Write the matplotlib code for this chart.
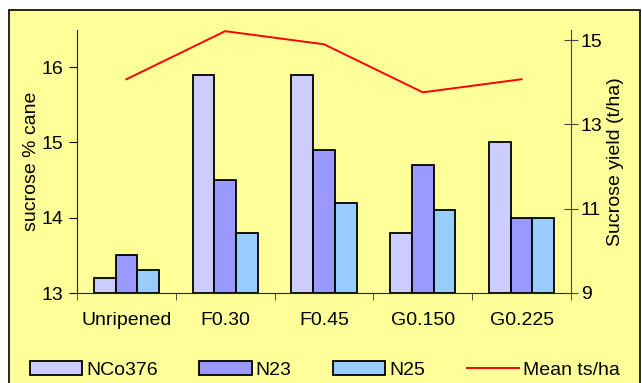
import matplotlib
matplotlib.use("Agg")
import matplotlib.pyplot as plt
import numpy as np
from matplotlib.patches import Rectangle, Patch
from matplotlib.lines import Line2D

plt.rcParams['font.family'] = ['Liberation Sans', 'DejaVu Sans']

categories = ["Unripened", "F0.30", "F0.45", "G0.150", "G0.225"]
series_names = ["NCo376", "N23", "N25"]
nco376 = [13.2, 15.9, 15.9, 13.8, 15.0]
n23 = [13.5, 14.5, 14.9, 14.7, 14.0]
n25 = [13.3, 13.8, 14.2, 14.1, 14.0]
mean_ts = [14.07, 15.21, 14.9, 13.76, 14.07]
line_name = "Mean ts/ha"

colors = ["#CCCCFF", "#9999FF", "#99CCFF"]
bg = "#FFFF99"
fs = 14

fig = plt.figure(figsize=(6.42, 3.83), dpi=100)
fig.patch.set_facecolor("white")
fig.patches.append(Rectangle((9/642, -0.02), 631/642, 1 - 10/383 + 0.02,
                             transform=fig.transFigure, facecolor=bg,
                             edgecolor="black", lw=1.2, zorder=-5))

ax = fig.add_axes([77/642, 1 - 293/383, (571 - 77)/642, (293 - 29.5)/383])
ax.set_facecolor("none")
x = np.arange(len(categories))
w = 0.22
for i, (vals, c) in enumerate(zip([nco376, n23, n25], colors)):
    ax.bar(x + (i - 1) * w, np.array(vals) - 13, bottom=13, width=w,
           color=c, edgecolor="black", lw=1.3, zorder=2)

ax.set_xlim(-0.5, len(categories) - 0.5)
ax.set_ylim(13, 16.5)
ax.set_yticks([13, 14, 15, 16])
ax.set_xticks(x)
ax.set_xticklabels(categories, fontsize=fs)
ax.set_xticks(np.arange(-0.5, len(categories), 1), minor=True)
ax.tick_params(axis='x', which='major', length=0, pad=14)
ax.tick_params(axis='x', which='minor', length=5, direction='out', color='#333333')
ax.tick_params(axis='y', length=6, direction='out', labelsize=fs, pad=4)
ax.spines['top'].set_visible(False)
ax.spines['right'].set_visible(False)
ax.spines['left'].set_color('#222222')
ax.spines['bottom'].set_color('#222222')
ax.set_ylabel("sucrose % cane", fontsize=fs, labelpad=1)

ax2 = ax.twinx()
ax2.plot(x, mean_ts, color="#FF0000", lw=1.4, zorder=3)
ax2.set_ylim(9, 15.25)
ax2.set_yticks([9, 11, 13, 15])
ax2.tick_params(axis='y', length=10, direction='inout', labelsize=fs, pad=2, color='#444444')
for s in ['top', 'left', 'bottom']:
    ax2.spines[s].set_visible(False)
ax2.spines['right'].set_color('#444444')
ax2.set_ylabel("Sucrose yield (t/ha)", fontsize=fs, labelpad=3)

handles = [Patch(facecolor=c, edgecolor="black", lw=1.3) for c in colors]
handles.append(Line2D([], [], color="#FF0000", lw=1.4))
fig.legend(handles, series_names + [line_name], loc='center left',
           bbox_to_anchor=(30/642, 1 - 370/383), ncol=4, frameon=False,
           fontsize=fs, handlelength=2.68, handleheight=0.75,
           handletextpad=0.2, columnspacing=2.15, borderpad=0, borderaxespad=0)

fig.savefig("out.png", dpi=100, facecolor=fig.get_facecolor())
